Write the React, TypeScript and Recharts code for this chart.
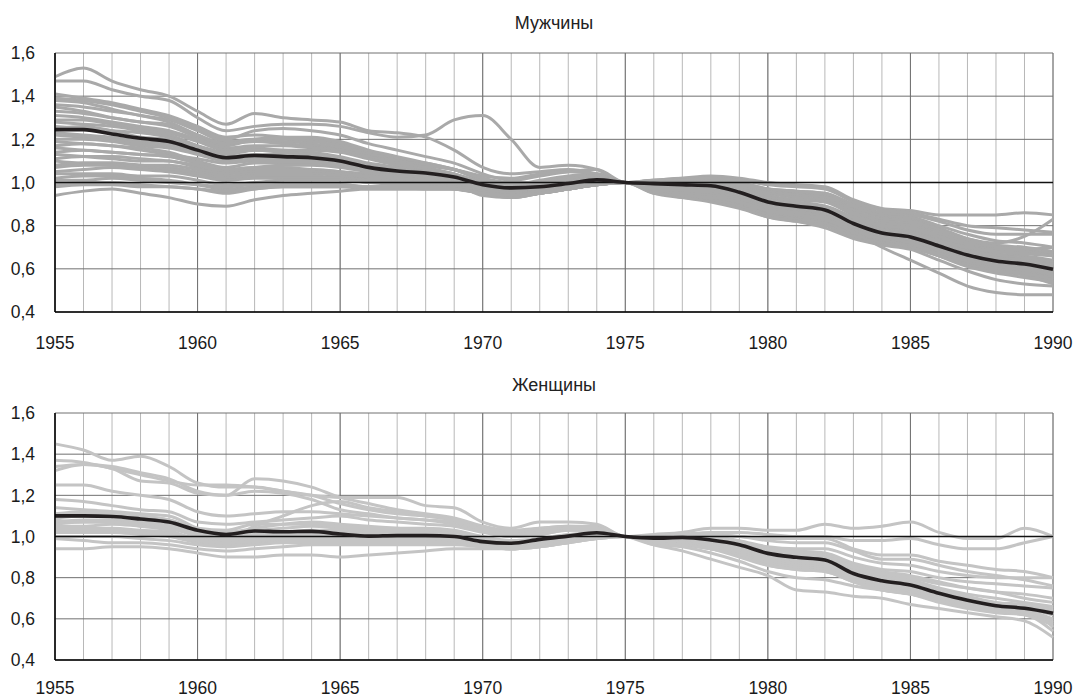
import React from 'react';
import { LineChart, Line, XAxis, YAxis, CartesianGrid, ReferenceLine } from 'recharts';

const YEARS = [1955, 1956, 1957, 1958, 1959, 1960, 1961, 1962, 1963, 1964, 1965, 1966, 1967, 1968, 1969, 1970, 1971, 1972, 1973, 1974, 1975, 1976, 1977, 1978, 1979, 1980, 1981, 1982, 1983, 1984, 1985, 1986, 1987, 1988, 1989, 1990];
const X_TICKS = [1955, 1960, 1965, 1970, 1975, 1980, 1985, 1990];
const Y_TICKS = [0.4, 0.6, 0.8, 1.0, 1.2, 1.4, 1.6];

const TITLE_MEN = 'Мужчины';
const TITLE_WOMEN = 'Женщины';

// Men (values x100, relative to 1975)
const m01 = [149,153,147,143,140,133,127,132,130,129,128,124,123,121,115,107,104,105,106,104,100,101,102,103,102,100,99,98,92,88,87,85,85,85,86,85];
const m02 = [147,147,143,140,138,130,124,126,127,127,126,123,121,122,129,131,120,107,108,106,100,100,101,102,100,97,95,94,88,84,83,79,74,72,75,83];
const m03 = [141,139,137,134,131,126,121,122,121,120,118,114,111,109,106,101,99,101,103,104,100,101,102,102,100,97,96,95,89,85,84,80,76,73,72,70];
const m04 = [139,138,136,133,130,125,120,124,125,124,122,118,115,112,109,104,101,103,105,106,100,100,101,101,99,96,94,93,87,83,82,78,74,71,70,68];
const m05 = [138,137,134,131,129,124,119,120,120,119,117,113,111,108,106,103,102,104,105,104,100,101,101,101,98,95,93,92,86,82,81,77,73,70,69,67];
const m06 = [136,135,133,131,128,122,118,119,119,118,116,113,110,108,106,102,99,100,102,103,100,100,100,100,98,94,92,91,85,81,80,76,72,69,68,66];
const m07 = [135,133,130,128,126,121,117,120,121,121,119,115,112,109,106,101,98,100,102,103,100,100,100,99,97,93,91,89,83,79,78,74,70,67,66,64];
const m08 = [133,132,130,128,127,122,118,119,118,117,115,112,110,108,106,102,100,100,101,102,100,100,100,99,96,92,90,88,82,78,77,73,69,66,65,63];
const m09 = [131,130,128,126,124,120,116,117,117,116,115,112,109,107,104,100,97,99,100,102,100,99,99,99,96,92,90,88,82,78,76,72,68,65,64,62];
const m10 = [129,129,127,125,123,119,115,116,115,115,114,111,108,106,104,100,98,99,100,102,100,99,99,98,95,91,89,87,81,77,75,71,67,64,63,61];
const m11 = [128,127,126,124,122,117,113,115,115,114,112,109,107,105,103,99,97,98,99,101,100,99,99,98,95,91,89,87,81,77,75,71,67,65,64,62];
const m12 = [126,125,124,123,121,117,114,115,114,113,111,108,106,104,102,98,96,97,99,101,100,99,98,98,95,90,88,86,80,76,74,70,66,63,62,60];
const m13 = [125,126,124,121,120,116,112,113,113,112,110,107,106,105,103,99,97,98,100,102,100,99,98,97,94,90,88,86,80,76,74,70,66,63,61,59];
const m14 = [123,122,121,119,118,114,111,112,112,111,109,107,105,104,102,98,96,97,99,101,100,99,98,97,94,89,87,85,79,75,73,69,65,62,61,58];
const m15 = [122,121,120,118,117,114,111,112,112,111,110,108,106,105,103,100,98,99,100,101,100,98,97,96,93,89,87,85,79,75,73,69,65,62,60,57];
const m16 = [120,120,119,117,116,113,110,111,111,110,109,106,104,103,101,96,94,96,98,100,100,98,97,96,93,88,86,84,78,74,72,68,64,61,59,56];
const m17 = [119,118,117,115,113,111,109,110,110,110,109,106,104,103,102,99,97,98,99,100,100,98,97,95,92,88,86,84,78,74,72,68,64,61,59,56];
const m18 = [117,118,117,116,114,110,107,109,109,109,108,106,105,104,103,100,97,97,98,100,100,98,96,95,92,87,85,83,77,73,71,67,63,60,58,55];
const m19 = [116,115,114,113,112,109,106,107,108,108,107,105,104,103,101,98,96,97,99,101,100,97,96,94,91,87,85,83,77,73,71,67,63,60,58,54];
const m20 = [114,115,114,113,112,109,106,107,107,106,105,104,103,102,101,97,95,96,98,100,100,97,95,94,91,86,84,82,77,73,72,68,64,62,60,57];
const m21 = [113,112,111,110,110,107,105,106,106,106,105,103,102,101,100,97,95,96,98,100,100,97,95,93,90,86,84,82,76,72,70,66,62,59,57,53];
const m22 = [111,112,112,111,110,108,105,106,106,105,104,102,101,100,99,96,94,95,97,99,100,96,94,93,90,85,83,81,76,73,72,68,64,61,59,55];
const m23 = [110,109,109,108,108,106,104,105,105,105,104,103,102,101,100,97,95,96,98,100,100,96,94,92,89,85,83,81,76,72,71,67,63,60,58,56];
const m24 = [108,109,109,108,107,105,103,104,104,104,103,101,100,100,99,94,93,95,97,99,100,96,93,92,89,84,82,80,75,72,70,66,62,59,58,55];
const m25 = [107,108,108,107,106,104,102,103,103,103,102,101,100,99,98,95,94,95,97,99,100,95,93,91,88,84,82,79,74,71,69,64,59,55,53,52];
const m26 = [105,106,107,106,105,103,101,102,102,102,102,100,100,99,98,95,93,95,97,99,100,99,100,101,99,97,96,95,90,86,85,82,78,76,76,76];
const m27 = [104,104,104,103,103,101,99,100,101,101,101,100,99,99,98,96,94,95,97,99,100,100,101,102,101,99,98,97,91,87,86,83,80,79,78,77];
const m28 = [102,103,103,102,101,99,97,98,99,99,99,98,98,97,97,95,94,95,97,99,100,98,97,97,95,91,90,89,84,80,79,75,71,69,69,70];
const m29 = [101,101,102,101,100,99,98,99,99,99,99,98,98,98,97,95,94,96,98,99,100,97,96,96,93,89,88,86,81,77,76,73,70,68,67,66];
const m30 = [99,100,100,99,98,97,95,97,98,98,98,97,97,97,97,95,94,96,98,99,100,96,95,94,92,88,86,84,78,74,73,69,66,64,63,62];
const m31 = [98,99,99,98,98,97,96,97,98,98,98,98,98,98,97,95,93,95,97,99,100,97,97,97,94,90,88,86,80,75,72,66,61,58,56,54];
const m32 = [94,96,97,95,93,90,89,92,94,95,96,97,97,97,97,95,94,95,97,99,100,95,94,93,91,87,85,83,77,70,64,58,52,49,48,48];
const menMean = [124.5,124.5,122.5,120.5,119,115,111.5,112.5,112,111.5,110,107,105.3,104.4,102.5,99,97.5,98,99.5,101.2,100,99.5,99,98.5,95.5,91,89,87.3,81,76.6,74.8,70.6,66.4,63.6,62.2,59.8];

// Women (values x100, relative to 1975)
const w01 = [145,142,137,139,134,126,124,124,122,120,119,119,119,115,114,107,104,107,107,106,100,101,102,104,104,103,103,106,104,105,107,102,99,99,104,100];
const w02 = [137,136,133,130,127,125,125,124,122,120,116,113,111,110,108,105,103,104,105,104,100,100,101,102,102,101,100,100,98,98,99,96,94,94,97,100];
const w03 = [134,135,133,127,126,121,120,128,127,124,119,116,113,111,109,105,102,104,105,105,100,100,101,101,100,99,99,99,94,91,91,88,86,84,83,80];
const w04 = [132,135,134,131,128,122,120,122,121,118,113,111,109,108,106,103,101,103,104,104,100,100,101,101,100,98,97,97,93,89,89,86,83,81,79,76];
const w05 = [125,125,122,120,118,112,110,111,112,112,111,110,109,108,107,104,101,102,104,104,100,100,100,100,98,95,94,94,90,87,86,83,81,80,80,80];
const w06 = [118,117,115,113,112,107,106,107,108,109,110,108,107,106,105,102,100,101,103,103,100,99,100,99,97,94,93,92,87,84,83,80,78,77,76,75];
const w07 = [114,113,112,110,108,102,99,105,110,115,117,114,112,110,108,103,100,101,103,103,100,99,99,98,96,93,92,91,86,83,81,78,75,73,72,70];
const w08 = [111,112,112,111,110,104,102,104,106,107,106,105,104,103,102,99,97,98,100,102,100,99,99,98,95,92,90,89,84,81,79,75,72,70,68,66];
const w09 = [109,110,110,109,108,103,101,103,104,105,104,103,103,102,101,98,96,98,100,102,100,99,98,97,95,91,89,88,83,80,78,74,71,68,67,65];
const w10 = [107,108,108,107,106,102,100,101,102,103,103,102,102,102,101,98,96,97,99,101,100,99,98,97,94,90,88,87,82,79,77,73,70,67,66,64];
const w11 = [106,107,107,106,105,101,99,100,101,102,102,101,101,101,100,97,95,97,99,101,100,98,98,96,93,89,87,86,81,78,76,72,69,66,65,62];
const w12 = [105,105,106,105,104,100,98,99,100,100,100,100,100,100,99,96,95,96,98,100,100,98,97,96,93,89,87,86,81,77,75,71,68,65,64,60];
const w13 = [104,104,104,103,102,99,97,98,99,99,99,99,99,99,99,96,94,96,98,100,100,98,97,95,92,88,86,85,80,76,74,70,67,64,63,59];
const w14 = [102,102,102,101,100,97,96,97,98,98,98,98,98,98,98,96,94,96,98,100,100,98,97,95,92,87,85,84,79,75,73,69,66,64,63,58];
const w15 = [100,100,100,99,98,96,95,96,97,97,97,97,97,97,97,95,94,96,98,100,100,97,96,94,91,87,85,84,79,75,73,70,67,65,65,62];
const w16 = [99,98,97,97,96,94,93,94,95,96,96,96,96,96,96,95,94,95,97,99,100,97,96,94,91,86,84,83,78,74,72,69,67,66,65,56];
const w17 = [94,94,95,95,94,92,90,90,91,91,90,91,92,93,94,94,94,95,97,99,100,97,96,94,90,86,84,83,78,74,72,68,65,63,62,54];
const w18 = [108,107,107,105,103,98,96,98,100,101,101,100,99,99,99,97,96,97,99,101,100,96,95,92,88,83,80,79,76,74,72,69,66,64,62,57];
const w19 = [103,103,103,102,101,98,97,98,99,100,100,99,99,99,98,95,94,95,97,99,100,96,93,89,85,81,74,73,71,70,67,65,63,61,59,51];
const w20 = [110,111,111,110,108,104,103,106,106,106,105,104,104,104,103,100,98,99,101,102,100,99,99,98,96,92,91,90,85,82,80,77,75,73,70,68];
const womenMean = [110,110,109.7,108.5,107,103,101,102.7,102.3,102.5,101.2,100.2,100.5,100.5,100,97.5,96.7,98.6,100.2,101.8,100,99.2,99.5,98.3,96,91.8,89.9,88.6,82,78.5,76.4,72.4,69,66.4,65.1,62.7];

const MEN_LINES = [m01,m02,m03,m04,m05,m06,m07,m08,m09,m10,m11,m12,m13,m14,m15,m16,m17,m18,m19,m20,m21,m22,m23,m24,m25,m26,m27,m28,m29,m30,m31,m32];
const WOMEN_LINES = [w01,w02,w03,w04,w05,w06,w07,w08,w09,w10,w11,w12,w13,w14,w15,w16,w17,w18,w19,w20];

function buildRows(lines: number[][], mean: number[]) {
  return YEARS.map((year, i) => {
    const row: Record<string, number> = { year, mean: mean[i] / 100 };
    lines.forEach((s, k) => {
      row['s' + k] = s[i] / 100;
    });
    return row;
  });
}

const FONT = '"Liberation Sans", Arial, sans-serif';
const tickStyle = { fontSize: 17.5, fill: '#1a1a1a', fontFamily: FONT };

function Panel(props: { lines: number[][]; mean: number[]; color: string; height: number; top: number; xHeight: number; xMargin: number }) {
  const { lines, mean, color, height, top, xHeight, xMargin } = props;
  const rows = buildRows(lines, mean);
  return (
    <LineChart width={1078} height={height} data={rows} margin={{ top, right: 25, bottom: 0, left: 0 }} style={{ overflow: 'visible' }}>
      <CartesianGrid horizontal={false} vertical={true} verticalValues={YEARS} stroke="#b8b8b8" strokeWidth={1} />
      <CartesianGrid horizontal={true} horizontalValues={Y_TICKS} vertical={true} verticalValues={X_TICKS} stroke="#707070" strokeWidth={1} />
      <XAxis
        type="number"
        dataKey="year"
        domain={[1955, 1990]}
        ticks={X_TICKS}
        interval={0}
        tickLine={false}
        tickSize={0}
        tickMargin={xMargin}
        height={xHeight}
        axisLine={{ stroke: '#000', strokeWidth: 1.5 }}
        tick={tickStyle}
      />
      <YAxis
        type="number"
        domain={[0.4, 1.6]}
        ticks={Y_TICKS}
        interval={0}
        width={55}
        tickLine={false}
        tickSize={0}
        tickMargin={20}
        axisLine={{ stroke: '#000', strokeWidth: 1.5 }}
        tick={tickStyle}
        tickFormatter={(v: number) => v.toFixed(1).replace('.', ',')}
      />
      {lines.map((_, k) => (
        <Line
          key={k}
          dataKey={'s' + k}
          type="monotone"
          stroke={color}
          strokeWidth={3}
          dot={false}
          activeDot={false}
          isAnimationActive={false}
        />
      ))}
      <ReferenceLine y={1} stroke="#111" strokeWidth={1.6} />
      <Line dataKey="mean" type="monotone" stroke="#231f20" strokeWidth={3.6} dot={false} activeDot={false} isAnimationActive={false} />
    </LineChart>
  );
}

const titleStyle: React.CSSProperties = {
  position: 'absolute',
  left: 55,
  width: 998,
  textAlign: 'center',
  fontFamily: FONT,
  fontSize: 18,
  lineHeight: '20px',
  color: '#222',
};

export default function App() {
  return (
    <div style={{ position: 'fixed', left: 0, top: 0, width: 1078, height: 699, background: '#fff', overflow: 'hidden' }}>
      <div style={{ position: 'absolute', left: 0, top: 0 }}>
        <Panel lines={MEN_LINES} mean={menMean} color="#a9a9a9" height={352} top={53} xHeight={40} xMargin={25} />
      </div>
      <div style={{ ...titleStyle, top: 13 }}>{TITLE_MEN}</div>
      <div style={{ position: 'absolute', left: 0, top: 360 }}>
        <Panel lines={WOMEN_LINES} mean={womenMean} color="#c4c4c4" height={339} top={53} xHeight={39} xMargin={22} />
      </div>
      <div style={{ ...titleStyle, top: 375 }}>{TITLE_WOMEN}</div>
    </div>
  );
}
